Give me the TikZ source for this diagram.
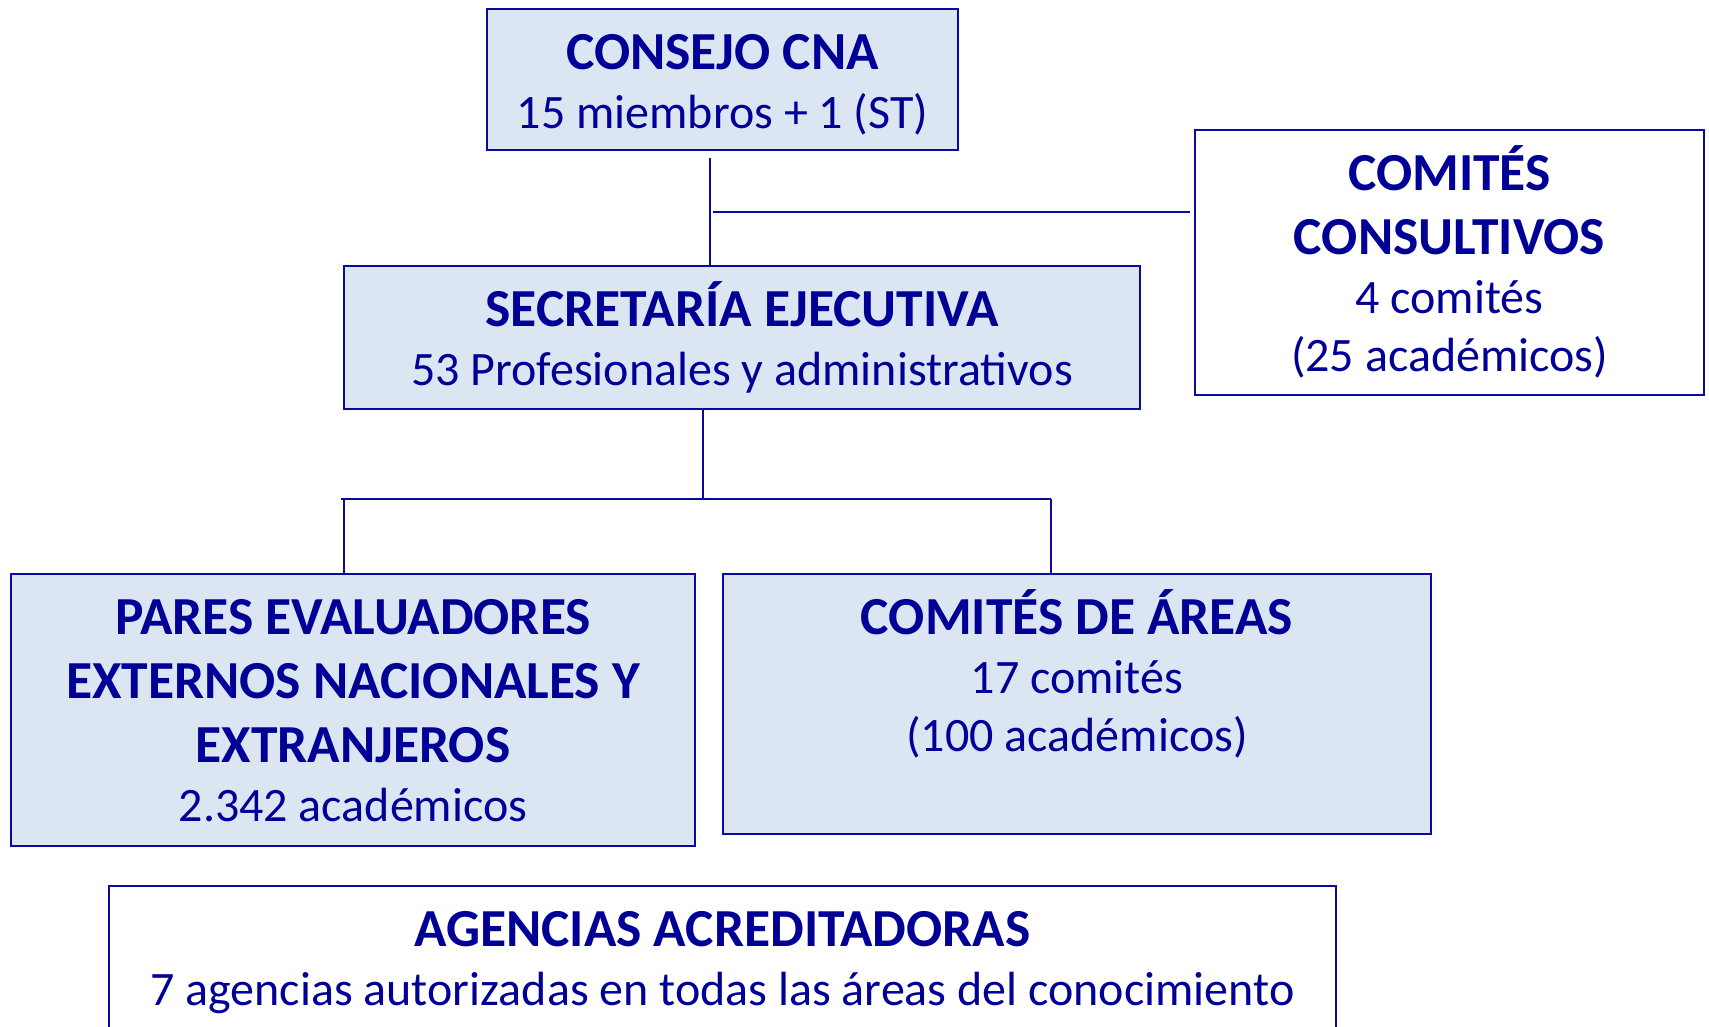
\documentclass[tikz,border=0pt]{standalone}
\usepackage{fontspec}
\setmainfont{Carlito}
\newcommand\hd[1]{{\fontsize{53.5}{64}\selectfont\bfseries #1}}

\begin{document}
\begin{tikzpicture}[x=1pt,y=-1pt,
  boxnode/.style={draw=edge,line width=2pt,inner sep=0pt},
  txtnode/.style={anchor=north,yshift=-13pt,inner sep=0pt,align=center,text=navy,font=\fontsize{48}{58}\selectfont},
  link/.style={draw=edge,line width=1.5pt}]
\definecolor{navy}{HTML}{000096}
\definecolor{edge}{HTML}{0A0AA0}
\definecolor{paleblue}{HTML}{DCE6F2}
\useasboundingbox (0,0) rectangle (1709,1027);
  \foreach \nm/\cx/\cy/\w/\h/\crlr/\txt in {
    cna/722.5/79.5/471/141/paleblue/{\hd{CONSEJO CNA}\\[1pt]15 miembros + 1 (ST)},
    cons/1449.5/262.5/509/265/white/{\hd{COMITÉS}\\[6pt]\hd{CONSULTIVOS}\\[1pt]4 comités\\(25 académicos)},
    sec/742/337.5/796/143/paleblue/{\hd{SECRETARÍA EJECUTIVA}\\[1pt]53 Profesionales y administrativos},
    pares/353/710/684/272/paleblue/{\hd{PARES EVALUADORES}\\[6pt]\hd{EXTERNOS NACIONALES Y}\\[6pt]\hd{EXTRANJEROS}\\[1pt]2.342 académicos},
    areas/1077/704/708/260/paleblue/{\hd{COMITÉS DE ÁREAS}\\[1pt]17 comités\\(100 académicos)},
    agencias/722.5/971/1227/170/white/{\hd{AGENCIAS ACREDITADORAS}\\[1pt]7 agencias autorizadas en todas las áreas del conocimiento}}
  {  \node [boxnode,fill=\crlr,minimum width=\w,minimum height=\h] (\nm) at (\cx,\cy) {};
     \node [txtnode] (\nm-txt) at (\nm.north) {\rule{0pt}{48pt}\txt};}
% connectors
\coordinate (cnaDown) at (710,158);
\coordinate (consJoin) at (713,212);
\coordinate (fork) at (703,499);
\coordinate (forkL) at (344,499);
\coordinate (forkR) at (1051,499);
\draw[link] (cnaDown) -- (cnaDown |- sec.north);
\draw[link] (consJoin) -- ([xshift=-4pt]consJoin -| cons.west);
\draw[link] (fork |- sec.south) -- (fork);
\draw[link] ([xshift=-3pt]forkL) -- (forkR);
\draw[link] (forkL) -- (forkL |- pares.north);
\draw[link] (forkR) -- (forkR |- areas.north);
\end{tikzpicture}
\end{document}
